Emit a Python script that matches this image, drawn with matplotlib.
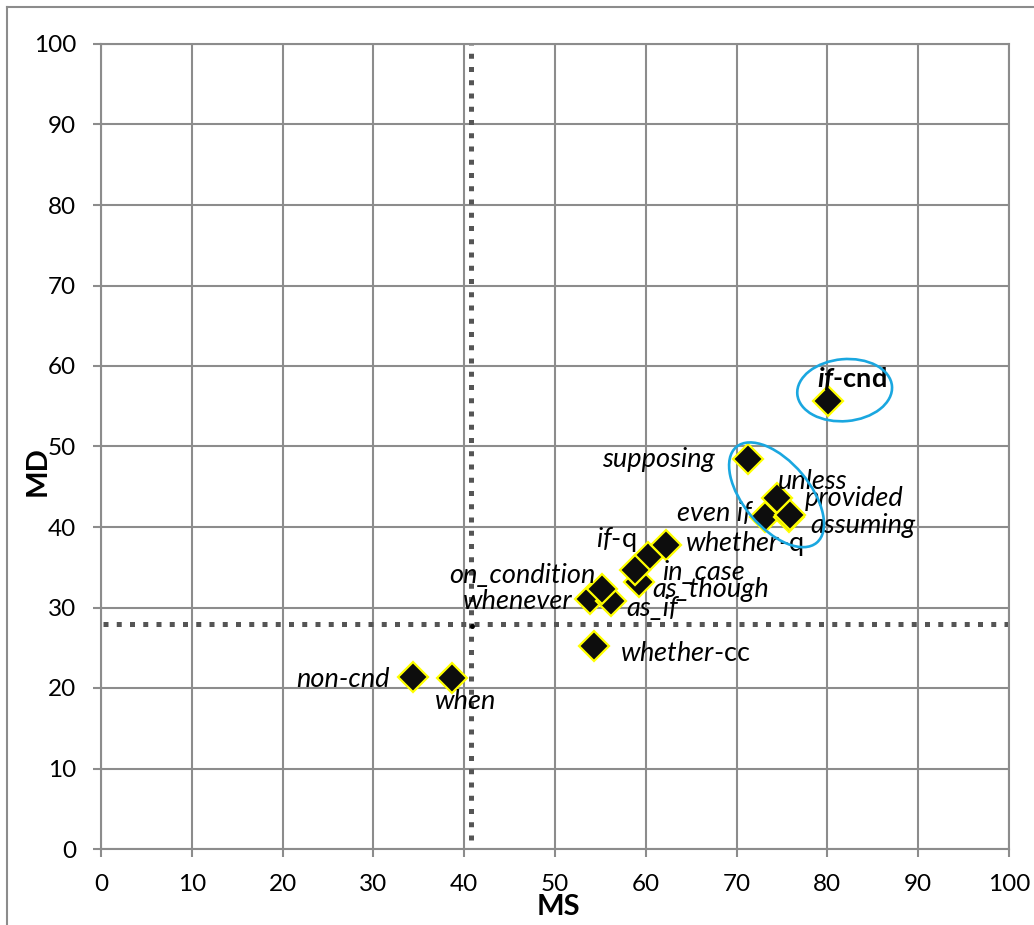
import matplotlib
matplotlib.use('Agg')
import matplotlib.pyplot as plt
import matplotlib.transforms as mtransforms
from matplotlib.patches import Ellipse
from matplotlib.lines import Line2D

plt.rcParams['font.family'] = ['Lato', 'DejaVu Sans']
plt.rcParams['mathtext.fontset'] = 'custom'
plt.rcParams['mathtext.rm'] = 'Lato'
plt.rcParams['mathtext.it'] = 'Lato:italic'
plt.rcParams['mathtext.bf'] = 'Lato:bold'
plt.rcParams['mathtext.bfit'] = 'Lato:italic:bold'

# connective scores (MS on x, MD on y)
names = ['non-cnd', 'when', 'whether-cc', 'whenever', 'as_if', 'on_condition',
         'as_though', 'if-q', 'in_case', 'whether-q', 'even if', 'unless',
         'assuming', 'provided', 'supposing', 'if-cnd']
ms_vals = [34.4, 38.7, 54.3, 53.9, 56.2, 55.2, 59.3, 60.2, 58.8, 62.2,
           73.1, 74.4, 75.8, 75.9, 71.3, 80.1]
md_vals = [21.4, 21.3, 25.2, 31.0, 30.8, 32.3, 33.2, 36.3, 34.7, 37.8,
           41.3, 43.6, 41.3, 41.5, 48.4, 55.7]

# label text and where each label sits (data coords)
label_text = {
    'non-cnd': 'non-cnd',
    'when': 'when',
    'whether-cc': r'$\mathit{whether}$-cc',
    'whenever': 'whenever',
    'as_if': 'as_if',
    'on_condition': 'on_condition',
    'as_though': 'as_though',
    'if-q': r'$\mathit{if}$-q',
    'in_case': 'in_case',
    'whether-q': r'$\mathit{whether}$-q',
    'even if': 'even if',
    'unless': 'unless',
    'assuming': 'assuming',
    'provided': 'provided',
    'supposing': 'supposing',
    'if-cnd': r'$\mathbfit{if}$-cnd',
}
label_pos = {
    'non-cnd': (31.8, 21.1, 'right'),
    'when': (36.8, 18.3, 'left'),
    'whether-cc': (57.2, 24.3, 'left'),
    'whenever': (51.9, 30.7, 'right'),
    'as_if': (57.9, 29.9, 'left'),
    'on_condition': (54.5, 34.0, 'right'),
    'as_though': (60.7, 32.2, 'left'),
    'if-q': (59.0, 38.4, 'right'),
    'in_case': (61.8, 34.3, 'left'),
    'whether-q': (64.3, 38.0, 'left'),
    'even if': (71.7, 41.7, 'right'),
    'unless': (74.6, 45.7, 'left'),
    'assuming': (78.1, 40.2, 'left'),
    'provided': (77.5, 43.5, 'left'),
    'supposing': (67.6, 48.4, 'right'),
    'if-cnd': (78.9, 58.4, 'left'),
}
upright = {'whether-cc', 'if-q', 'whether-q', 'if-cnd'}

# threshold lines
x_thresh = 40.75
y_thresh = 27.9

fig = plt.figure(figsize=(10.34, 9.25), dpi=100)
ax = fig.add_axes([101 / 1034, 1 - 849 / 925, 908 / 1034, 805 / 925])

grid_col = '#8c8c8c'
ax.set_xlim(0, 100)
ax.set_ylim(0, 100)
ax.set_xticks(range(0, 101, 10))
ax.set_yticks(range(0, 101, 10))
ax.grid(True, color=grid_col, linewidth=1.5)
ax.set_axisbelow(True)
for s in ax.spines.values():
    s.set_color(grid_col)
    s.set_linewidth(1.5)
ax.tick_params(direction='out', length=6, width=1.5, color=grid_col,
               labelsize=17.5, pad=12)

# dotted thresholds
ax.plot([x_thresh, x_thresh], [1.1, 100], linestyle=':', color='#555555',
        linewidth=3.6, clip_on=False, zorder=2)
ax.plot([0.2, 100.5], [y_thresh, y_thresh], linestyle=':', color='#555555',
        linewidth=3.6, clip_on=False, zorder=2)
ax.plot(x_thresh + 0.15, y_thresh - 0.2, 'o', color='black', markersize=2.5, zorder=3)

# markers
for n, x, y in zip(names, ms_vals, md_vals):
    ax.plot(x, y, marker='D', markersize=15.5, markerfacecolor='#0d0d0d',
            markeredgecolor='#ffff00', markeredgewidth=1.6, linestyle='none',
            zorder=4)

for n in names:
    lx, ly, ha = label_pos[n]
    kw = dict(fontsize=19.5, ha=ha, va='center', zorder=5)
    if n == 'if-cnd':
        kw['fontweight'] = 'bold'
    elif n not in upright:
        kw['fontstyle'] = 'italic'
    ax.text(lx, ly, label_text[n], **kw)

# highlight rings (sized in inches, centred in data coords)
def ring(cx, cy, w, h, ang):
    tr = fig.dpi_scale_trans + mtransforms.ScaledTranslation(cx, cy, ax.transData)
    e = Ellipse((0, 0), w, h, angle=ang, fill=False, edgecolor='#1aa7e0',
                linewidth=1.9, transform=tr, zorder=6)
    ax.add_patch(e)

ring(81.9, 57.0, 0.95, 0.62, 5)
ring(74.4, 44.0, 1.25, 0.66, -50)

fig.text(38 / 1034, 1 - 471 / 925, 'MD', rotation=90, fontsize=21,
         fontweight='bold', ha='center', va='center')
fig.text(558 / 1034, 1 - 907 / 925, 'MS', fontsize=21, fontweight='bold',
         ha='center', va='center')

# outer chart frame
fig.add_artist(Line2D([7 / 1034, 7 / 1034], [0, 1 - 7 / 925], color=grid_col,
                      linewidth=1.5, transform=fig.transFigure))
fig.add_artist(Line2D([7 / 1034, 1], [1 - 7 / 925, 1 - 7 / 925], color=grid_col,
                      linewidth=1.5, transform=fig.transFigure))

fig.savefig('out.png', dpi=100)
